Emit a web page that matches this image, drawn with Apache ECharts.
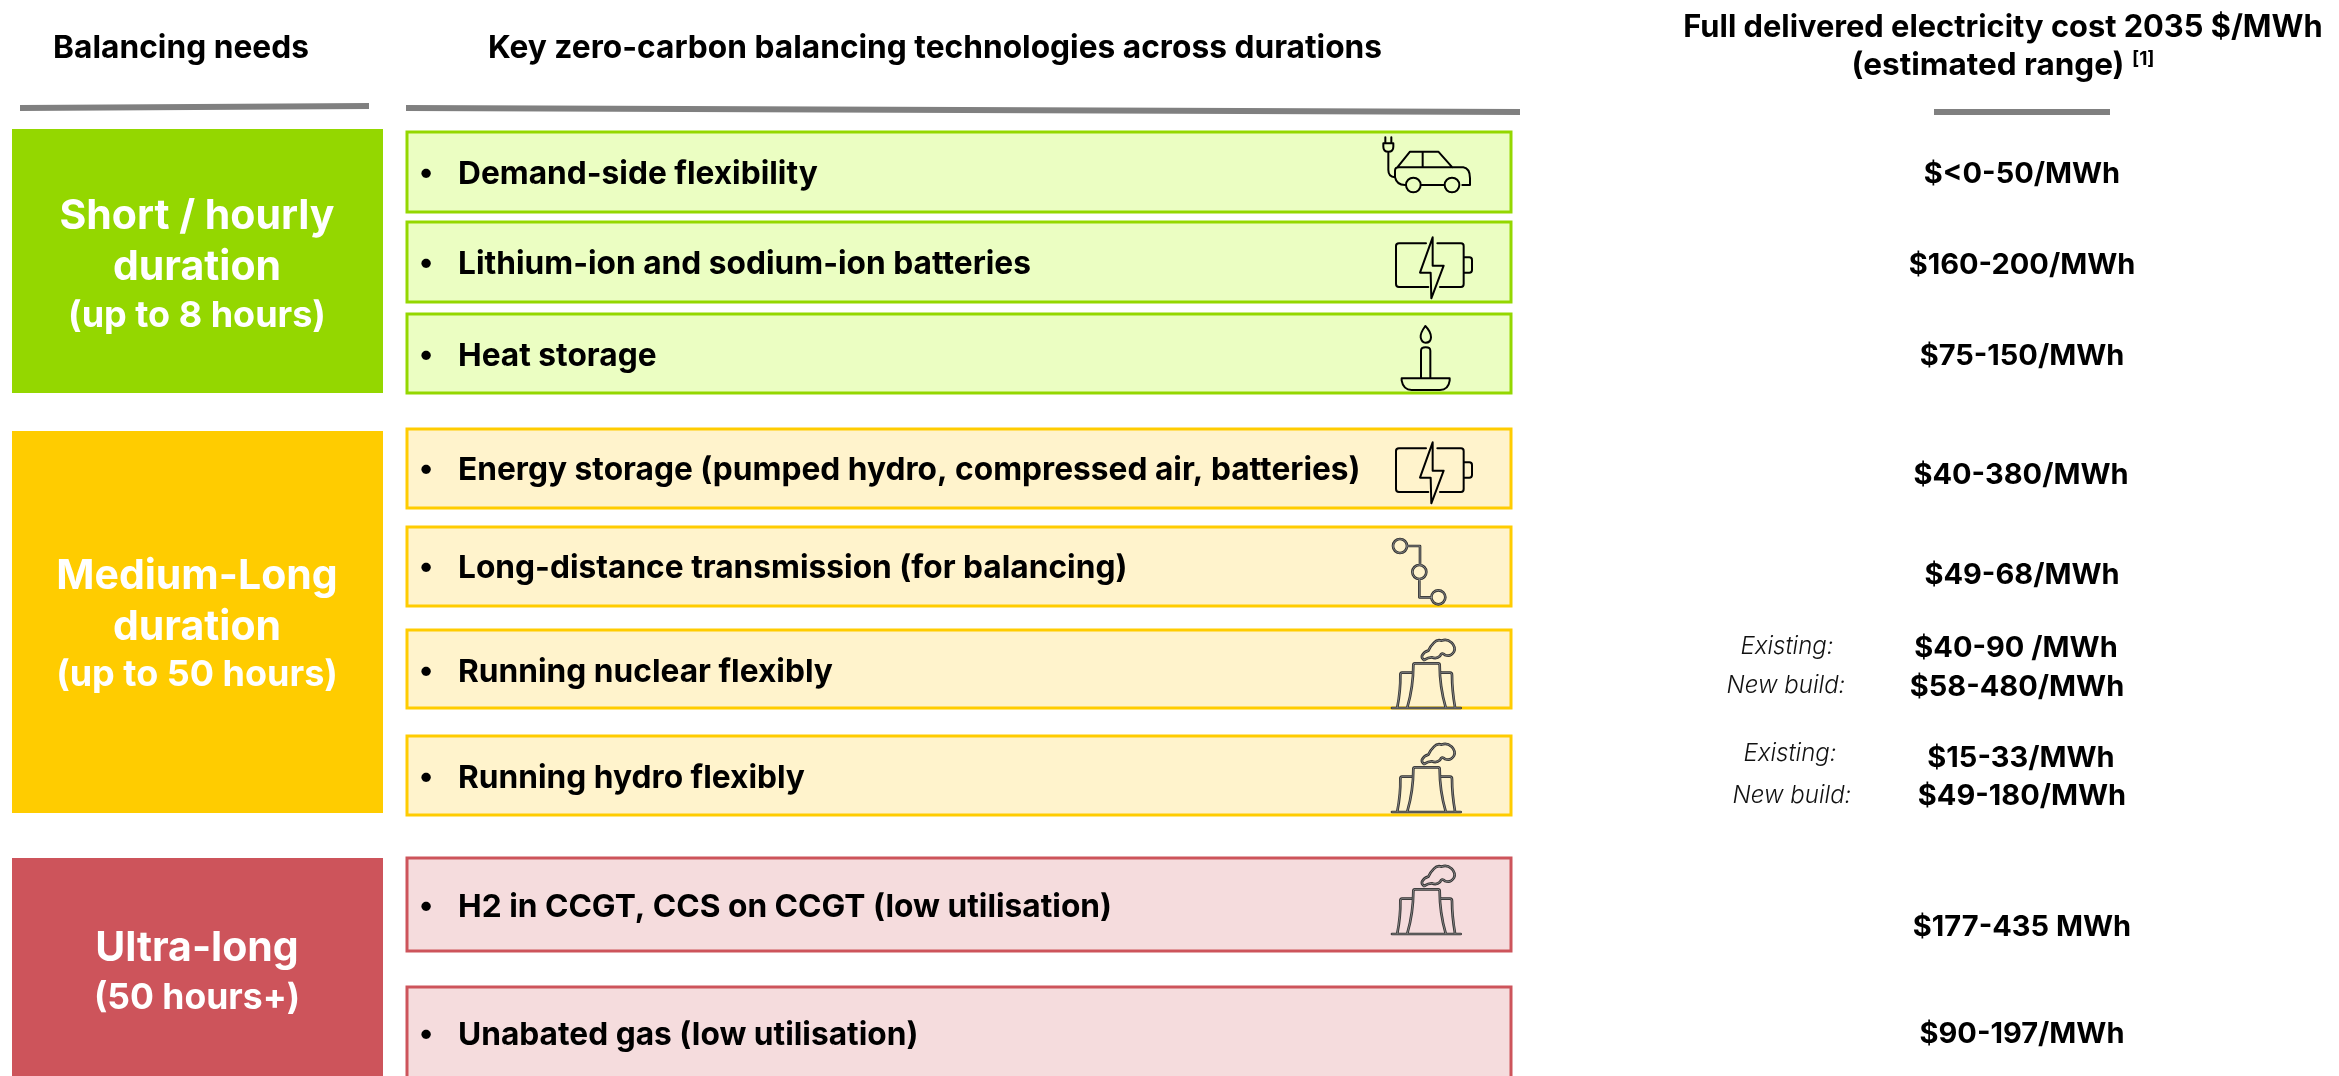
<!DOCTYPE html>
<html>
<head>
<meta charset="utf-8">
<title>Balancing technologies</title>
<style>
html, body { margin: 0; padding: 0; background: #fff; }
#main { width: 2339px; height: 1076px; }
</style>
<script src="https://cdn.jsdelivr.net/npm/echarts@6/dist/echarts.min.js"></script>
</head>
<body>
<div id="main"></div>
<script>
// table content
var headers = ['Balancing needs', 'Key zero-carbon balancing technologies across durations', 'Full delivered electricity cost 2035 $/MWh', '(estimated range)', '[1]'];
var needs = ['Short / hourly', 'duration', '(up to 8 hours)', 'Medium-Long', 'duration', '(up to 50 hours)', 'Ultra-long', '(50 hours+)'];
var technologies = [
	'Demand-side flexibility',
	'Lithium-ion and sodium-ion batteries',
	'Heat storage',
	'Energy storage (pumped hydro, compressed air, batteries)',
	'Long-distance transmission (for balancing)',
	'Running nuclear flexibly',
	'Running hydro flexibly',
	'H2 in CCGT, CCS on CCGT (low utilisation)',
	'Unabated gas (low utilisation)'
];
var costs = ['$<0-50/MWh', '$160-200/MWh', '$75-150/MWh', '$40-380/MWh', '$49-68/MWh', '$40-90 /MWh', '$58-480/MWh', '$15-33/MWh', '$49-180/MWh', '$177-435 MWh', '$90-197/MWh'];
var costNotes = ['Existing:', 'New build:', 'Existing:', 'New build:'];

// layout, in page pixels (the hidden axes run 0-2339 and 0-1076)
var tierFill = ['#94d700', '#ffcc00', '#cd545b'];
var tierTint = ['#ebfec2', '#fff3cc', '#f5dcdd'];
var tierSpan = [[129, 393], [431, 813], [858, 1090]];
var rowTier = [0, 0, 0, 1, 1, 1, 1, 2, 2];
var rowSpan = [[132, 212], [222, 302], [314, 393], [429, 508], [527, 606], [630, 708], [736, 815], [858, 951], [987, 1090]];
var rowText = [173, 263, 355, 469, 567, 671, 777, 906, 1034];
var rowIcon = ['car', 'battery', 'candle', 'battery', 'line', 'plant', 'plant', 'plant', null];
var iconShift = [0, 0, 0, 205, 87, 87, 191, 313, 0];
var ruleEnds = [[20, 108, 369, 106], [406, 108, 1520, 112], [1934, 112, 2110, 112]];
var needX = [197, 197, 197, 197, 197, 197, 197, 197];
var needY = [217, 268, 316, 577, 628, 675, 949, 998];
var needSize = [41, 41, 36, 41, 41, 36, 41, 35.5];
var costX = [2022, 2022, 2022, 2021, 2022, 2016, 2017, 2021, 2022, 2022, 2022];
var costY = [174, 265, 356, 475, 575, 648, 687, 758, 796, 927, 1034];
var noteX = [1787, 1786, 1790, 1792];
var noteY = [647, 686, 754, 796];
var headerPos = [[181, 48, 'center'], [935, 48, 'center'], [2003, 28, 'center'], [1988, 66, 'center'], [2132, 59, 'left']];
var headerSize = [31.7, 31.7, 30.8, 31.5, 19];

var SANS = 'Inter, "Noto Sans", sans-serif';

// icon outlines, drawn at 1/3 scale from a 1300,100 origin
var iconPaths = {
	car: 'M256 112V130M274 112V130M250 130H280V140Q280 155 265 155Q250 155 250 140ZM265 155V210Q265 230 285 232Q290 255 315 255' +
		'M285 232V212Q285 202 297 202H490Q510 205 510 235V255H487M292 202L330 155H415L457 202M368 155V202' +
		'M318 255a22 22 0 1 0 44 0a22 22 0 1 0 -44 0M434 255a22 22 0 1 0 44 0a22 22 0 1 0 -44 0M362 255H434',
	battery: 'M378 430H297Q288 430 288 438V552Q288 561 297 561H385M412 430H483Q491 430 491 438V552Q491 561 483 561H420' +
		'M491 472H508Q516 472 516 480V510Q516 518 508 518H491M398 412L360 518H392L394 595L431 497H398Z',
	candle: 'M376 678Q360 700 362 712Q365 728 377 728Q392 728 393 712Q393 695 376 678Z' +
		'M363 835V752Q363 742 377 742Q391 742 391 752V835M305 835H449V842Q445 870 420 870H335Q310 870 305 842Z',
	line: 'M279 1077a21 21 0 1 0 42 0a21 21 0 1 0 -42 0M337 1155a21 21 0 1 0 42 0a21 21 0 1 0 -42 0M394 1231a21 21 0 1 0 42 0a21 21 0 1 0 -42 0' +
		'M321 1077H360V1134M358 1176V1231H394',
	plant: 'M276 1563H482M322 1561Q340 1499 340 1434Q340 1429 345 1429H414Q419 1429 419 1434Q419 1499 437 1561' +
		'M292 1561Q302 1509 301 1464Q301 1457 306 1457H334M424 1457H450Q456 1457 456 1464Q456 1509 465 1561' +
		'M372 1419Q364 1414 366 1406Q372 1394 385 1391Q390 1379 402 1367Q412 1356 425 1361Q440 1354 455 1367Q468 1381 462 1394Q452 1411 435 1404Q425 1394 420 1407Q410 1417 395 1411Q385 1411 372 1419Z'
};

function indexList(arr) {
	return arr.map(function(d, i) { return [i]; });
}

function textEl(api, x, y, str, font, fill, align) {
	var p = api.coord([x, y]);
	return {
		type: 'text',
		style: { x: p[0], y: p[1], text: str, font: font, fill: fill, align: align || 'center', verticalAlign: 'middle' }
	};
}

function rectEl(api, x0, y0, x1, y1, style) {
	var a = api.coord([x0, y0]);
	var b = api.coord([x1, y1]);
	return { type: 'rect', shape: { x: a[0], y: a[1], width: b[0] - a[0], height: b[1] - a[1] }, style: style };
}

function customSeries(arr, renderItem, z) {
	return { type: 'custom', coordinateSystem: 'cartesian2d', data: indexList(arr), renderItem: renderItem, silent: true, z: z, encode: { x: 0 } };
}

var myChart = echarts.init(document.getElementById('main'));
var option = {
	animation: false,
	backgroundColor: '#fff',
	grid: { left: 0, right: 0, top: 0, bottom: 0 },
	xAxis: { type: 'value', min: 0, max: 2339, show: false },
	yAxis: { type: 'value', min: 0, max: 1076, inverse: true, show: false },
	series: [
		customSeries(tierSpan, function(params, api) {
			var s = tierSpan[params.dataIndex];
			return rectEl(api, 12, s[0], 383, s[1], { fill: tierFill[params.dataIndex] });
		}, 1),
		customSeries(rowSpan, function(params, api) {
			var s = rowSpan[params.dataIndex];
			var t = rowTier[params.dataIndex];
			return rectEl(api, 407, s[0], 1511, s[1], { fill: tierTint[t], stroke: tierFill[t], lineWidth: 3 });
		}, 2),
		customSeries(ruleEnds, function(params, api) {
			var r = ruleEnds[params.dataIndex];
			var a = api.coord([r[0], r[1]]);
			var b = api.coord([r[2], r[3]]);
			return { type: 'line', shape: { x1: a[0], y1: a[1], x2: b[0], y2: b[1] }, style: { stroke: '#808080', lineWidth: 6 } };
		}, 2),
		customSeries(rowIcon, function(params, api) {
			var name = rowIcon[params.dataIndex];
			if (!name) {
				return null;
			}
			var p = api.coord([1300, 100 + iconShift[params.dataIndex]]);
			var children = [];
			var grey = name === 'line' || name === 'plant';
			// the grey icons have a hollow-looking stroke, so draw a pale core on top
			children.push({ type: 'path', shape: { pathData: iconPaths[name] }, style: { fill: null, stroke: grey ? '#333' : '#000', lineWidth: grey ? 8 : 6, lineJoin: 'round', lineCap: 'round' } });
			if (grey) {
				children.push({ type: 'path', shape: { pathData: iconPaths[name] }, style: { fill: null, stroke: '#a8a8a8', lineWidth: 2, lineJoin: 'round', lineCap: 'round' } });
			}
			return { type: 'group', x: p[0], y: p[1], scaleX: 1 / 3, scaleY: 1 / 3, children: children };
		}, 3),
		customSeries(headers, function(params, api) {
			var i = params.dataIndex;
			var h = headerPos[i];
			return textEl(api, h[0], h[1], headers[i], '700 ' + headerSize[i] + 'px ' + SANS, '#000', h[2]);
		}, 4),
		customSeries(needs, function(params, api) {
			var i = params.dataIndex;
			return textEl(api, needX[i], needY[i], needs[i], '700 ' + needSize[i] + 'px ' + SANS, '#fff');
		}, 4),
		customSeries(technologies, function(params, api) {
			var i = params.dataIndex;
			return {
				type: 'group',
				children: [
					textEl(api, 426, rowText[i], '•', '700 30px ' + SANS, '#000'),
					textEl(api, 458, rowText[i] + 1, technologies[i], '700 31.7px ' + SANS, '#000', 'left')
				]
			};
		}, 4),
		customSeries(costs, function(params, api) {
			var i = params.dataIndex;
			return textEl(api, costX[i], costY[i], costs[i], '700 29px ' + SANS, '#000');
		}, 4),
		customSeries(costNotes, function(params, api) {
			var i = params.dataIndex;
			return textEl(api, noteX[i], noteY[i], costNotes[i], 'italic 300 24px ' + SANS, '#111');
		}, 4)
	]
};
myChart.setOption(option);
</script>
</body>
</html>
